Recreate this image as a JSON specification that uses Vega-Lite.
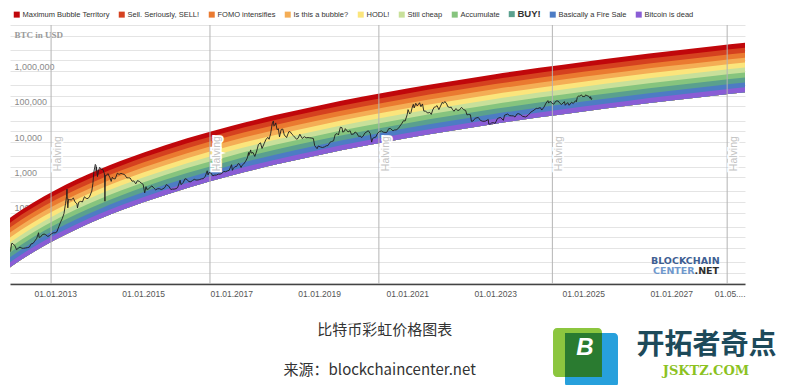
{
  "$schema": "https://vega.github.io/schema/vega-lite/v6.json",
  "width": 735,
  "height": 259,
  "autosize": {"type": "none"},
  "padding": {"left": 10, "top": 25, "right": 48, "bottom": 101},
  "background": "white",
  "config": {"view": {"stroke": null}, "font": "Liberation Sans"},
  "datasets": {
    "bands": [
      {"d":"2011-07-01","b0":0.496,"b1":0.685,"b2":0.946,"b3":1.31,"b4":1.80,"b5":2.49,"b6":3.43,"b7":4.74,"b8":6.54,"b9":9.03,"b10":12.5},
      {"d":"2012-01-01","b0":1.50,"b1":2.07,"b2":2.86,"b3":3.94,"b4":5.45,"b5":7.52,"b6":10.4,"b7":14.3,"b8":19.8,"b9":27.3,"b10":37.7},
      {"d":"2012-07-01","b0":3.80,"b1":5.25,"b2":7.25,"b3":10.0,"b4":13.8,"b5":19.1,"b6":26.3,"b7":36.3,"b8":50.1,"b9":69.2,"b10":95.5},
      {"d":"2013-01-01","b0":8.55,"b1":11.8,"b2":16.3,"b3":22.5,"b4":31.0,"b5":42.9,"b6":59.2,"b7":81.7,"b8":113,"b9":156,"b10":215},
      {"d":"2013-07-01","b0":17.3,"b1":23.9,"b2":33.0,"b3":45.6,"b4":62.9,"b5":86.9,"b6":120,"b7":166,"b8":229,"b9":315,"b10":436},
      {"d":"2014-01-01","b0":32.8,"b1":45.3,"b2":62.5,"b3":86.3,"b4":119,"b5":164,"b6":227,"b7":313,"b8":432,"b9":597,"b10":824},
      {"d":"2014-07-01","b0":58.4,"b1":80.6,"b2":111,"b3":153,"b4":212,"b5":292,"b6":404,"b7":557,"b8":769,"b9":1062,"b10":1466},
      {"d":"2015-01-01","b0":98.4,"b1":136,"b2":188,"b3":259,"b4":357,"b5":493,"b6":681,"b7":940,"b8":1297,"b9":1791,"b10":2472},
      {"d":"2016-01-01","b0":249,"b1":344,"b2":475,"b3":656,"b4":906,"b5":1250,"b6":1726,"b7":2382,"b8":3288,"b9":4539,"b10":6266},
      {"d":"2017-01-01","b0":559,"b1":771,"b2":1064,"b3":1469,"b4":2028,"b5":2799,"b6":3864,"b7":5334,"b8":7363,"b9":10164,"b10":14030},
      {"d":"2018-01-01","b0":1135,"b1":1567,"b2":2163,"b3":2985,"b4":4121,"b5":5689,"b6":7852,"b7":10839,"b8":14962,"b9":20654,"b10":28510},
      {"d":"2019-01-01","b0":2128,"b1":2938,"b2":4055,"b3":5598,"b4":7727,"b5":10667,"b6":14724,"b7":20325,"b8":28056,"b9":38729,"b10":53460},
      {"d":"2020-01-01","b0":3793,"b1":5236,"b2":7228,"b3":9977,"b4":13772,"b5":19011,"b6":26242,"b7":36224,"b8":50004,"b9":69025,"b10":95280},
      {"d":"2021-01-01","b0":6398,"b1":8831,"b2":12191,"b3":16827,"b4":23228,"b5":32065,"b6":44260,"b7":61097,"b8":84337,"b9":116417,"b10":160700},
      {"d":"2022-01-01","b0":10327,"b1":14254,"b2":19678,"b3":27162,"b4":37494,"b5":51758,"b6":71444,"b7":98621,"b8":136136,"b9":187920,"b10":259400},
      {"d":"2023-01-01","b0":16219,"b1":22387,"b2":30905,"b3":42659,"b4":58886,"b5":81289,"b6":112206,"b7":154889,"b8":213808,"b9":295137,"b10":407400},
      {"d":"2024-01-01","b0":24547,"b1":33882,"b2":46775,"b3":64564,"b4":89123,"b5":123030,"b6":169824,"b7":234425,"b8":323598,"b9":446690,"b10":616600},
      {"d":"2025-01-01","b0":36056,"b1":49768,"b2":68706,"b3":94836,"b4":130910,"b5":180714,"b6":249448,"b7":344338,"b8":475321,"b9":656125,"b10":905700},
      {"d":"2026-01-01","b0":51992,"b1":71765,"b2":99073,"b3":136751,"b4":188769,"b5":260586,"b6":359699,"b7":496528,"b8":685402,"b9":946119,"b10":1306000},
      {"d":"2027-01-01","b0":73290,"b1":101163,"b2":139658,"b3":192771,"b4":266098,"b5":367335,"b6":507048,"b7":699930,"b8":966175,"b9":1333694,"b10":1841000},
      {"d":"2028-01-01","b0":101396,"b1":139958,"b2":193215,"b3":266696,"b4":368143,"b5":508203,"b6":701495,"b7":968344,"b8":1336691,"b9":1845149,"b10":2547000},
      {"d":"2029-01-01","b0":138340,"b1":190951,"b2":263614,"b3":363867,"b4":502277,"b5":693367,"b6":957085,"b7":1321160,"b8":1823715,"b9":2517429,"b10":3475000}
    ],
    "price": [
      {"d":"2011-12-23","p":3.9},{"d":"2011-12-28","p":4.2},{"d":"2012-01-05","p":6.5},{"d":"2012-01-10","p":6.9},{"d":"2012-01-20","p":6.3},{"d":"2012-02-01","p":5.9},{"d":"2012-02-15","p":4.5},{"d":"2012-03-01","p":4.9},{"d":"2012-03-15","p":5.3},{"d":"2012-04-01","p":4.9},{"d":"2012-04-15","p":4.9},{"d":"2012-05-01","p":5.0},{"d":"2012-05-15","p":5.1},{"d":"2012-06-01","p":5.3},{"d":"2012-06-15","p":6.5},{"d":"2012-07-01","p":6.7},{"d":"2012-07-15","p":7.8},{"d":"2012-08-01","p":9.4},{"d":"2012-08-16","p":13.5},{"d":"2012-08-20","p":10.0},{"d":"2012-09-01","p":10.2},{"d":"2012-09-15","p":11.8},{"d":"2012-10-01","p":12.4},{"d":"2012-10-15","p":11.8},{"d":"2012-11-01","p":10.6},{"d":"2012-11-15","p":11.2},{"d":"2012-12-01","p":12.5},{"d":"2012-12-15","p":13.4},
      {"d":"2013-01-01","p":13.4},{"d":"2013-01-15","p":14.3},{"d":"2013-02-01","p":20.4},{"d":"2013-02-15","p":27},{"d":"2013-03-01","p":34},{"d":"2013-03-15","p":47},{"d":"2013-03-28","p":90},{"d":"2013-04-05","p":140},{"d":"2013-04-09","p":230},{"d":"2013-04-12","p":110},{"d":"2013-04-16","p":68},{"d":"2013-04-22","p":120},{"d":"2013-05-01","p":116},{"d":"2013-05-15","p":114},{"d":"2013-06-01","p":129},{"d":"2013-06-15","p":100},{"d":"2013-07-01","p":88},{"d":"2013-07-05","p":68},{"d":"2013-07-15","p":98},{"d":"2013-08-01","p":104},{"d":"2013-08-15","p":100},{"d":"2013-09-01","p":140},{"d":"2013-09-15","p":126},{"d":"2013-10-01","p":125},{"d":"2013-10-15","p":145},{"d":"2013-11-01","p":203},{"d":"2013-11-10","p":330},{"d":"2013-11-18","p":700},{"d":"2013-11-30","p":1150},{"d":"2013-12-05","p":1100},{"d":"2013-12-07","p":750},{"d":"2013-12-10","p":980},{"d":"2013-12-18","p":520},{"d":"2013-12-26","p":740},
      {"d":"2014-01-05","p":950},{"d":"2014-01-20","p":830},{"d":"2014-02-01","p":830},{"d":"2014-02-10","p":680},{"d":"2014-02-14","p":620},{"d":"2014-02-18","p":105},{"d":"2014-02-22","p":560},{"d":"2014-03-01","p":560},{"d":"2014-03-15","p":630},{"d":"2014-04-01","p":480},{"d":"2014-04-11","p":380},{"d":"2014-04-20","p":500},{"d":"2014-05-01","p":450},{"d":"2014-05-15","p":450},{"d":"2014-06-01","p":650},{"d":"2014-06-15","p":600},{"d":"2014-07-01","p":640},{"d":"2014-07-15","p":620},{"d":"2014-08-01","p":590},{"d":"2014-08-18","p":480},{"d":"2014-09-01","p":480},{"d":"2014-09-15","p":475},{"d":"2014-10-01","p":385},{"d":"2014-10-15","p":395},{"d":"2014-11-01","p":325},{"d":"2014-11-15","p":400},{"d":"2014-12-01","p":380},{"d":"2014-12-15","p":345},
      {"d":"2015-01-01","p":315},{"d":"2015-01-14","p":180},{"d":"2015-01-25","p":270},{"d":"2015-02-01","p":225},{"d":"2015-02-15","p":235},{"d":"2015-03-01","p":260},{"d":"2015-03-15","p":285},{"d":"2015-04-01","p":245},{"d":"2015-04-15","p":220},{"d":"2015-05-01","p":235},{"d":"2015-05-15","p":237},{"d":"2015-06-01","p":225},{"d":"2015-06-15","p":235},{"d":"2015-07-01","p":258},{"d":"2015-07-12","p":310},{"d":"2015-08-01","p":281},{"d":"2015-08-19","p":225},{"d":"2015-09-01","p":230},{"d":"2015-09-15","p":230},{"d":"2015-10-01","p":237},{"d":"2015-10-15","p":255},{"d":"2015-11-04","p":410},{"d":"2015-11-11","p":310},{"d":"2015-11-20","p":325},{"d":"2015-12-01","p":360},{"d":"2015-12-15","p":455},
      {"d":"2016-01-01","p":430},{"d":"2016-01-15","p":375},{"d":"2016-02-01","p":372},{"d":"2016-02-15","p":405},{"d":"2016-03-01","p":435},{"d":"2016-03-15","p":415},{"d":"2016-04-01","p":417},{"d":"2016-04-15","p":430},{"d":"2016-05-01","p":450},{"d":"2016-05-15","p":455},{"d":"2016-06-01","p":537},{"d":"2016-06-16","p":760},{"d":"2016-06-23","p":580},{"d":"2016-07-01","p":675},{"d":"2016-07-15","p":665},{"d":"2016-08-02","p":545},{"d":"2016-08-15","p":570},{"d":"2016-09-01","p":575},{"d":"2016-09-15","p":610},{"d":"2016-10-01","p":610},{"d":"2016-10-15","p":640},{"d":"2016-11-01","p":730},{"d":"2016-11-15","p":712},{"d":"2016-12-01","p":755},{"d":"2016-12-15","p":780},
      {"d":"2017-01-04","p":1130},{"d":"2017-01-11","p":780},{"d":"2017-01-20","p":895},{"d":"2017-02-01","p":990},{"d":"2017-02-15","p":1010},{"d":"2017-03-01","p":1220},{"d":"2017-03-10","p":1180},{"d":"2017-03-24","p":940},{"d":"2017-04-01","p":1080},{"d":"2017-04-15","p":1180},{"d":"2017-05-01","p":1420},{"d":"2017-05-15","p":1750},{"d":"2017-05-25","p":2500},{"d":"2017-05-27","p":2050},{"d":"2017-06-12","p":2950},{"d":"2017-06-15","p":2400},{"d":"2017-07-01","p":2500},{"d":"2017-07-16","p":1930},{"d":"2017-08-01","p":2750},{"d":"2017-08-15","p":4200},{"d":"2017-09-01","p":4700},{"d":"2017-09-14","p":3250},{"d":"2017-10-01","p":4400},{"d":"2017-10-15","p":5700},{"d":"2017-11-01","p":6700},{"d":"2017-11-12","p":5900},{"d":"2017-11-25","p":8700},{"d":"2017-12-07","p":16000},{"d":"2017-12-17","p":19400},{"d":"2017-12-22","p":13800},{"d":"2017-12-28","p":14500},
      {"d":"2018-01-06","p":17100},{"d":"2018-01-17","p":11000},{"d":"2018-01-28","p":11700},{"d":"2018-02-06","p":6900},{"d":"2018-02-20","p":11200},{"d":"2018-03-05","p":11500},{"d":"2018-03-18","p":7800},{"d":"2018-04-06","p":6600},{"d":"2018-04-24","p":9600},{"d":"2018-05-05","p":9700},{"d":"2018-05-20","p":8200},{"d":"2018-06-01","p":7500},{"d":"2018-06-28","p":5900},{"d":"2018-07-10","p":6300},{"d":"2018-07-25","p":8200},{"d":"2018-08-14","p":6200},{"d":"2018-08-31","p":7000},{"d":"2018-09-15","p":6500},{"d":"2018-10-01","p":6600},{"d":"2018-10-15","p":6500},{"d":"2018-11-01","p":6350},{"d":"2018-11-14","p":6200},{"d":"2018-11-25","p":3900},{"d":"2018-12-15","p":3200},{"d":"2018-12-25","p":3800},
      {"d":"2019-01-10","p":3600},{"d":"2019-01-28","p":3450},{"d":"2019-02-15","p":3600},{"d":"2019-03-01","p":3850},{"d":"2019-03-15","p":3900},{"d":"2019-04-02","p":4900},{"d":"2019-04-15","p":5100},{"d":"2019-05-01","p":5350},{"d":"2019-05-14","p":8000},{"d":"2019-05-30","p":8600},{"d":"2019-06-10","p":7800},{"d":"2019-06-26","p":12900},{"d":"2019-07-10","p":12500},{"d":"2019-07-16","p":9400},{"d":"2019-07-31","p":10000},{"d":"2019-08-06","p":11800},{"d":"2019-08-29","p":9500},{"d":"2019-09-15","p":10300},{"d":"2019-09-26","p":8100},{"d":"2019-10-15","p":8300},{"d":"2019-10-26","p":9500},{"d":"2019-11-10","p":8800},{"d":"2019-11-25","p":7100},{"d":"2019-12-10","p":7300},{"d":"2019-12-18","p":6600},
      {"d":"2020-01-01","p":7200},{"d":"2020-01-15","p":8800},{"d":"2020-02-13","p":10300},{"d":"2020-02-29","p":8600},{"d":"2020-03-12","p":4900},{"d":"2020-03-20","p":6200},{"d":"2020-04-01","p":6600},{"d":"2020-04-15","p":6800},{"d":"2020-05-01","p":8800},{"d":"2020-05-15","p":9700},{"d":"2020-06-01","p":10200},{"d":"2020-06-15","p":9400},{"d":"2020-07-01","p":9200},{"d":"2020-07-15","p":9200},{"d":"2020-08-01","p":11800},{"d":"2020-08-15","p":11900},{"d":"2020-09-05","p":10200},{"d":"2020-09-20","p":10900},{"d":"2020-10-01","p":10800},{"d":"2020-10-20","p":12000},{"d":"2020-11-01","p":13800},{"d":"2020-11-15","p":16000},{"d":"2020-12-01","p":19700},{"d":"2020-12-15","p":19400},
      {"d":"2021-01-01","p":29400},{"d":"2021-01-08","p":40600},{"d":"2021-01-22","p":30800},{"d":"2021-02-01","p":33500},{"d":"2021-02-10","p":44800},{"d":"2021-02-21","p":57500},{"d":"2021-02-28","p":45200},{"d":"2021-03-13","p":61200},{"d":"2021-03-25","p":51700},{"d":"2021-04-14","p":63500},{"d":"2021-04-25","p":49000},{"d":"2021-05-08","p":58800},{"d":"2021-05-19","p":37000},{"d":"2021-06-01","p":36700},{"d":"2021-06-22","p":32500},{"d":"2021-07-07","p":34000},{"d":"2021-07-20","p":29800},{"d":"2021-08-01","p":39900},{"d":"2021-08-14","p":47800},{"d":"2021-08-25","p":48900},{"d":"2021-09-06","p":52700},{"d":"2021-09-21","p":40600},{"d":"2021-10-01","p":48200},{"d":"2021-10-20","p":65900},{"d":"2021-10-28","p":60600},{"d":"2021-11-10","p":68800},{"d":"2021-11-25","p":58900},{"d":"2021-12-04","p":49200},{"d":"2021-12-20","p":46700},
      {"d":"2022-01-01","p":47700},{"d":"2022-01-10","p":41800},{"d":"2022-01-24","p":36600},{"d":"2022-02-10","p":43500},{"d":"2022-02-24","p":38300},{"d":"2022-03-10","p":39400},{"d":"2022-03-28","p":47100},{"d":"2022-04-15","p":40500},{"d":"2022-05-01","p":38500},{"d":"2022-05-12","p":28900},{"d":"2022-05-25","p":29500},{"d":"2022-06-10","p":29000},{"d":"2022-06-18","p":19000},{"d":"2022-07-01","p":19300},{"d":"2022-07-20","p":23200},{"d":"2022-08-14","p":24400},{"d":"2022-09-01","p":20100},{"d":"2022-09-20","p":19000},{"d":"2022-10-10","p":19100},{"d":"2022-11-05","p":21300},{"d":"2022-11-09","p":15900},{"d":"2022-11-21","p":15800},{"d":"2022-12-01","p":17000},{"d":"2022-12-15","p":17400},
      {"d":"2023-01-01","p":16600},{"d":"2023-01-20","p":22600},{"d":"2023-02-01","p":23700},{"d":"2023-02-16","p":24300},{"d":"2023-03-10","p":20200},{"d":"2023-03-20","p":28200},{"d":"2023-04-14","p":30500},{"d":"2023-05-01","p":27500},{"d":"2023-05-15","p":27200},{"d":"2023-06-01","p":27000},{"d":"2023-06-15","p":25100},{"d":"2023-07-01","p":30500},{"d":"2023-07-13","p":31400},{"d":"2023-08-01","p":29200},{"d":"2023-08-18","p":26100},{"d":"2023-09-11","p":25200},{"d":"2023-10-01","p":27900},{"d":"2023-10-24","p":34500},{"d":"2023-11-10","p":37300},{"d":"2023-12-08","p":44000},{"d":"2023-12-20","p":43600},
      {"d":"2024-01-11","p":46300},{"d":"2024-01-23","p":39500},{"d":"2024-02-10","p":47500},{"d":"2024-02-28","p":62500},{"d":"2024-03-14","p":73100},{"d":"2024-03-20","p":62000},{"d":"2024-04-01","p":69700},{"d":"2024-04-18","p":61300},{"d":"2024-05-01","p":57800},{"d":"2024-05-21","p":71400},{"d":"2024-06-07","p":71000},{"d":"2024-06-24","p":60300},{"d":"2024-07-05","p":56700},{"d":"2024-07-29","p":68300},{"d":"2024-08-05","p":54000},{"d":"2024-08-25","p":64200},{"d":"2024-09-06","p":53900},{"d":"2024-09-27","p":65800},{"d":"2024-10-10","p":60300},{"d":"2024-10-29","p":72700},{"d":"2024-11-05","p":67800},{"d":"2024-11-13","p":90000},{"d":"2024-11-22","p":98900},{"d":"2024-12-05","p":97000},{"d":"2024-12-17","p":106100},{"d":"2024-12-30","p":92600},
      {"d":"2025-01-07","p":97000},{"d":"2025-01-13","p":94500},{"d":"2025-01-21","p":106100},{"d":"2025-02-01","p":100600},{"d":"2025-02-15","p":97500},{"d":"2025-02-28","p":84400},{"d":"2025-03-03","p":94000},{"d":"2025-03-10","p":78500},{"d":"2025-03-14","p":84000}
    ],
    "halving": [
      {"d":"2012-11-28"},{"d":"2016-07-09"},{"d":"2020-05-11"},{"d":"2024-04-20"},{"d":"2028-04-10"}
    ]
  },
  "layer": [
    {
      "encoding": {
        "x": {
          "field": "d",
          "type": "temporal",
          "scale": {"domain": [{"year": 2011, "month": 12, "date": 23}, {"year": 2028, "month": 9, "date": 5}]},
          "axis": {
            "title": null,
            "values": [
              {"year": 2013, "month": 1, "date": 1}, {"year": 2015, "month": 1, "date": 1},
              {"year": 2017, "month": 1, "date": 1}, {"year": 2019, "month": 1, "date": 1},
              {"year": 2021, "month": 1, "date": 1}, {"year": 2023, "month": 1, "date": 1},
              {"year": 2025, "month": 1, "date": 1}, {"year": 2027, "month": 1, "date": 1},
              {"year": 2028, "month": 5, "date": 1}
            ],
            "labelExpr": "year(datum.value) == 2028 ? '01.05....' : timeFormat(datum.value, '%d.%m.%Y')",
            "grid": false,
            "ticks": false,
            "domainColor": "#444444",
            "domainWidth": 1.5,
            "labelFont": "Liberation Sans",
            "labelFontSize": 8.5,
            "labelColor": "#555555",
            "labelPadding": 5,
            "labelFlush": false,
            "labelOverlap": false
          }
        }
      },
      "layer": [
        {
          "data": {"name": "bands"},
          "mark": {"type": "area", "interpolate": "monotone", "clip": true, "opacity": 1},
          "encoding": {
            "y": {
              "field": "b10",
              "type": "quantitative",
              "scale": {"type": "log", "domain": [0.48, 10000000], "nice": false},
              "axis": {
                "title": "BTC in USD",
                "titleAngle": 0,
                "titleAlign": "left",
                "titleBaseline": "middle",
                "titleX": 4,
                "titleY": 9,
                "titleFont": "Liberation Serif",
                "titleFontSize": 9,
                "titleFontWeight": "bold",
                "titleColor": "#9a9a9a",
                "values": [0.5, 1, 2, 5, 10, 20, 50, 100, 200, 500, 1000, 2000, 5000, 10000, 20000, 50000, 100000, 200000, 500000, 1000000, 2000000, 5000000, 10000000],
                "labelExpr": "indexof([10, 100, 1000, 10000, 100000, 1000000], datum.value) >= 0 ? format(datum.value, ',') : ''",
                "labelAlign": "left",
                "labelBaseline": "top",
                "labelPadding": -4,
                "labelOffset": 2,
                "labelFont": "Liberation Sans",
                "labelFontSize": 9,
                "labelColor": "#8a8a8a",
                "labelFlush": false,
                "labelOverlap": false,
                "ticks": false,
                "tickSize": 0,
                "domain": false,
                "grid": true,
                "gridColor": "#e4e4e4",
                "gridWidth": 1
              }
            },
            "y2": {"field": "b0"},
            "color": {
              "datum": "Maximum Bubble Territory",
              "scale": {
                "domain": ["Maximum Bubble Territory", "Sell. Seriously, SELL!", "FOMO intensifies", "Is this a bubble?", "HODL!", "Still cheap", "Accumulate", "BUY!", "Basically a Fire Sale", "Bitcoin is dead"],
                "range": ["#c0070b", "#d5411f", "#ea7a30", "#f4ad55", "#fbe57c", "#c8e09a", "#86c47e", "#5aa08e", "#4d7cc4", "#8a5dd5"]
              },
              "legend": {
                "orient": "none",
                "legendX": 3,
                "legendY": -15,
                "direction": "horizontal",
                "columns": 10,
                "title": null,
                "symbolType": "square",
                "symbolSize": 36,
                "symbolStrokeWidth": 0,
                "symbolOpacity": 1,
                "labelFont": "Liberation Sans",
                "labelFontSize": 7.5,
                "labelColor": "#333333",
                "labelOffset": 2,
                "columnPadding": 8,
                "labelLimit": 200,
                "encode": {
                  "labels": {
                    "update": {
                      "fontWeight": {"signal": "datum.label === 'BUY!' ? 'bold' : 'normal'"},
                      "fontSize": {"signal": "datum.label === 'BUY!' ? 9.5 : 7.5"}
                    }
                  }
                }
              }
            }
          }
        },
        {"data": {"name": "bands"}, "mark": {"type": "area", "interpolate": "monotone", "clip": true, "opacity": 1}, "encoding": {"y": {"field": "b9", "type": "quantitative"}, "y2": {"field": "b0"}, "color": {"datum": "Sell. Seriously, SELL!"}}},
        {"data": {"name": "bands"}, "mark": {"type": "area", "interpolate": "monotone", "clip": true, "opacity": 1}, "encoding": {"y": {"field": "b8", "type": "quantitative"}, "y2": {"field": "b0"}, "color": {"datum": "FOMO intensifies"}}},
        {"data": {"name": "bands"}, "mark": {"type": "area", "interpolate": "monotone", "clip": true, "opacity": 1}, "encoding": {"y": {"field": "b7", "type": "quantitative"}, "y2": {"field": "b0"}, "color": {"datum": "Is this a bubble?"}}},
        {"data": {"name": "bands"}, "mark": {"type": "area", "interpolate": "monotone", "clip": true, "opacity": 1}, "encoding": {"y": {"field": "b6", "type": "quantitative"}, "y2": {"field": "b0"}, "color": {"datum": "HODL!"}}},
        {"data": {"name": "bands"}, "mark": {"type": "area", "interpolate": "monotone", "clip": true, "opacity": 1}, "encoding": {"y": {"field": "b5", "type": "quantitative"}, "y2": {"field": "b0"}, "color": {"datum": "Still cheap"}}},
        {"data": {"name": "bands"}, "mark": {"type": "area", "interpolate": "monotone", "clip": true, "opacity": 1}, "encoding": {"y": {"field": "b4", "type": "quantitative"}, "y2": {"field": "b0"}, "color": {"datum": "Accumulate"}}},
        {"data": {"name": "bands"}, "mark": {"type": "area", "interpolate": "monotone", "clip": true, "opacity": 1}, "encoding": {"y": {"field": "b3", "type": "quantitative"}, "y2": {"field": "b0"}, "color": {"datum": "BUY!"}}},
        {"data": {"name": "bands"}, "mark": {"type": "area", "interpolate": "monotone", "clip": true, "opacity": 1}, "encoding": {"y": {"field": "b2", "type": "quantitative"}, "y2": {"field": "b0"}, "color": {"datum": "Basically a Fire Sale"}}},
        {"data": {"name": "bands"}, "mark": {"type": "area", "interpolate": "monotone", "clip": true, "opacity": 1}, "encoding": {"y": {"field": "b1", "type": "quantitative"}, "y2": {"field": "b0"}, "color": {"datum": "Bitcoin is dead"}}},
        {
          "data": {"name": "halving"},
          "mark": {"type": "rule", "color": "#b4b4b4", "strokeWidth": 1},
          "encoding": {}
        },
        {
          "data": {"name": "price"},
          "mark": {"type": "line", "color": "#1e1e1e", "strokeWidth": 0.9, "clip": true},
          "encoding": {"y": {"field": "p", "type": "quantitative"}}
        },
        {
          "data": {"name": "halving"},
          "mark": {"type": "text", "angle": 270, "align": "center", "baseline": "middle", "dy": 7, "font": "Liberation Sans", "fontSize": 10.5, "fill": "#ffffff", "stroke": "#ffffff", "strokeWidth": 3.5, "clip": true},
          "encoding": {"y": {"datum": 2320}, "text": {"value": "Halving"}}
        },
        {
          "data": {"name": "halving"},
          "mark": {"type": "text", "angle": 270, "align": "center", "baseline": "middle", "dy": 7, "font": "Liberation Sans", "fontSize": 10.5, "fill": "#c4c4c4", "clip": true},
          "encoding": {"y": {"datum": 2320}, "text": {"value": "Halving"}}
        },
        {
          "data": {"values": [{"d": "2026-07-17", "t": "BLOCKCHAIN"}]},
          "mark": {"type": "text", "align": "left", "baseline": "middle", "font": "DejaVu Sans", "fontSize": 9.5, "fontWeight": "bold", "fill": "#3f5f93"},
          "encoding": {"y": {"datum": 2.2}, "text": {"field": "t"}}
        },
        {
          "data": {"values": [{"d": "2026-08-03", "t": "CENTER"}]},
          "mark": {"type": "text", "align": "left", "baseline": "middle", "font": "DejaVu Sans", "fontSize": 9.5, "fontWeight": "bold", "fill": "#6f98cc"},
          "encoding": {"y": {"datum": 1.147}, "text": {"field": "t"}}
        },
        {
          "data": {"values": [{"d": "2027-07-14", "t": ".NET"}]},
          "mark": {"type": "text", "align": "left", "baseline": "middle", "font": "DejaVu Sans", "fontSize": 9.5, "fontWeight": "bold", "fill": "#2d2d2d"},
          "encoding": {"y": {"datum": 1.147}, "text": {"field": "t"}}
        }
      ]
    },
    {
      "layer": [
        {
          "data": {"values": [{"k": "g"}]},
          "mark": {"type": "rect", "color": "#8cc63f", "cornerRadius": 4},
          "encoding": {
            "x": {"datum": 73.88, "type": "quantitative", "scale": {"domain": [0, 100], "nice": false, "zero": false}, "axis": null},
            "x2": {"datum": 80.54},
            "y": {"datum": -16.99, "type": "quantitative", "scale": {"domain": [0, 100], "nice": false, "zero": false}, "axis": null},
            "y2": {"datum": -35.91}
          }
        },
        {
          "data": {"values": [{"k": "b"}]},
          "mark": {"type": "rect", "color": "#27a0dc", "cornerRadius": 4},
          "encoding": {"x": {"datum": 75.51, "type": "quantitative"}, "x2": {"datum": 82.72}, "y": {"datum": -18.92, "type": "quantitative"}, "y2": {"datum": -39.77}}
        },
        {
          "data": {"values": [{"k": "o"}]},
          "mark": {"type": "rect", "color": "#2a7b30"},
          "encoding": {"x": {"datum": 75.51, "type": "quantitative"}, "x2": {"datum": 80.54}, "y": {"datum": -18.92, "type": "quantitative"}, "y2": {"datum": -35.91}}
        },
        {
          "data": {"values": [{"t": "B"}]},
          "mark": {"type": "text", "align": "center", "baseline": "middle", "font": "Liberation Sans", "fontSize": 24, "fontWeight": "bold", "fontStyle": "italic", "fill": "#ffffff"},
          "encoding": {"x": {"datum": 78.23, "type": "quantitative"}, "y": {"datum": -24.71, "type": "quantitative"}, "text": {"field": "t"}}
        },
        {
          "data": {"values": [{"t": "开拓者奇点"}]},
          "mark": {"type": "text", "align": "center", "baseline": "middle", "font": "Noto Sans CJK SC", "fontSize": 28, "fontWeight": "bold", "fill": "#1d4a5a"},
          "encoding": {"x": {"datum": 94.76, "type": "quantitative"}, "y": {"datum": -23.94, "type": "quantitative"}, "text": {"field": "t"}}
        },
        {
          "data": {"values": [{"t": "JSKTZ.COM"}]},
          "mark": {"type": "text", "align": "center", "baseline": "middle", "font": "DejaVu Serif", "fontSize": 13, "fontWeight": "bold", "fill": "#8cc21f"},
          "encoding": {"x": {"datum": 94.69, "type": "quantitative"}, "y": {"datum": -33.78, "type": "quantitative"}, "text": {"field": "t"}}
        },
        {
          "data": {"values": [{"t": "比特币彩虹价格图表"}]},
          "mark": {"type": "text", "align": "center", "baseline": "middle", "font": "Noto Sans CJK SC", "fontSize": 15, "fill": "#333333"},
          "encoding": {"x": {"datum": 51.0, "type": "quantitative"}, "y": {"datum": -17.76, "type": "quantitative"}, "text": {"field": "t"}}
        },
        {
          "data": {"values": [{"t": "来源：blockchaincenter.net"}]},
          "mark": {"type": "text", "align": "center", "baseline": "middle", "font": "Noto Sans CJK SC", "fontSize": 15, "fill": "#333333"},
          "encoding": {"x": {"datum": 50.3, "type": "quantitative"}, "y": {"datum": -33.2, "type": "quantitative"}, "text": {"field": "t"}}
        }
      ]
    }
  ],
  "resolve": {"scale": {"x": "independent", "y": "independent"}, "axis": {"x": "independent", "y": "independent"}}
}
